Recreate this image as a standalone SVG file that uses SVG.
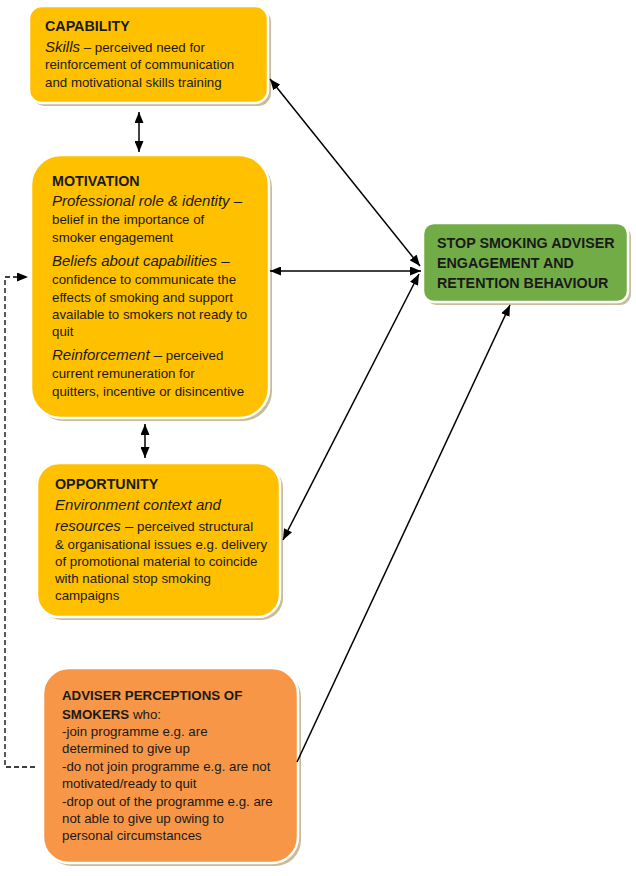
<svg xmlns="http://www.w3.org/2000/svg" width="636" height="876" viewBox="0 0 636 876">
<defs>
<marker id="ah" viewBox="0 0 11 9" refX="11" refY="4.5" markerWidth="11" markerHeight="9" markerUnits="userSpaceOnUse" orient="auto-start-reverse">
<path d="M0,0 L11,4.5 L0,9 Z" fill="#000"/>
</marker>
</defs>
<style>
.sh{fill:#c9bc9c}
.y{fill:#ffc000;stroke:#fff;stroke-width:2.5}
.o{fill:#f79646;stroke:#fff;stroke-width:2.5}
.g{fill:#72ac46;stroke:#fff;stroke-width:2.5}
text{font-family:"Liberation Sans",Arial,sans-serif;font-size:13.3px;fill:#1a1a1a}
.t{font-weight:bold;font-size:14.3px}
.i{font-style:italic;font-size:15px}
.c{stroke:#000;stroke-width:1.5;fill:none}
.d{stroke:#000;stroke-width:1.3;fill:none;stroke-dasharray:5,3}
</style>
<g id="capability">
<rect class="sh" x="32" y="9" width="239" height="97" rx="13"/>
<rect class="y" x="29" y="6" width="239" height="97" rx="13"/>
<text x="45" y="31" class="t">CAPABILITY</text>
<text x="45" y="52"><tspan class="i">Skills</tspan> – perceived need for</text>
<text x="45" y="69">reinforcement of communication</text>
<text x="45" y="87">and motivational skills training</text>
</g>
<g id="motivation">
<rect class="sh" x="34" y="158" width="238" height="263" rx="30"/>
<rect class="y" x="31" y="155" width="238" height="263" rx="30"/>
<text x="52" y="186" class="t">MOTIVATION</text>
<text x="52" y="206" class="i">Professional role &amp; identity –</text>
<text x="52" y="224">belief in the importance of</text>
<text x="52" y="242">smoker engagement</text>
<text x="52" y="266" class="i">Beliefs about capabilities –</text>
<text x="52" y="284">confidence to communicate the</text>
<text x="52" y="302">effects of smoking and support</text>
<text x="52" y="319">available to smokers not ready to</text>
<text x="52" y="336">quit</text>
<text x="52" y="360"><tspan class="i">Reinforcement –</tspan> perceived</text>
<text x="52" y="378">current remuneration for</text>
<text x="52" y="396">quitters, incentive or disincentive</text>
</g>
<g id="opportunity">
<rect class="sh" x="40" y="466" width="243" height="154" rx="22"/>
<rect class="y" x="37" y="463" width="243" height="154" rx="22"/>
<text x="55" y="489" class="t">OPPORTUNITY</text>
<text x="55" y="510" class="i">Environment context and</text>
<text x="55" y="531"><tspan class="i">resources –</tspan> perceived structural</text>
<text x="55" y="549">&amp; organisational issues e.g. delivery</text>
<text x="55" y="566">of promotional material to coincide</text>
<text x="55" y="583">with national stop smoking</text>
<text x="55" y="600">campaigns</text>
</g>
<g id="adviser-perceptions">
<rect class="sh" x="46" y="671" width="255" height="195" rx="26"/>
<rect class="o" x="43" y="668" width="255" height="195" rx="26"/>
<text x="62" y="700" class="t" style="font-size:13.3px">ADVISER PERCEPTIONS OF</text>
<text x="62" y="719"><tspan class="t" style="font-size:13.3px">SMOKERS</tspan> who:</text>
<text x="62" y="736">-join programme e.g. are</text>
<text x="62" y="753">determined to give up</text>
<text x="62" y="771">-do not join programme e.g. are not</text>
<text x="62" y="788">motivated/ready to quit</text>
<text x="62" y="806">-drop out of the programme e.g. are</text>
<text x="62" y="823">not able to give up owing to</text>
<text x="62" y="840">personal circumstances</text>
</g>
<g id="stop-smoking-adviser">
<rect class="sh" x="426" y="226" width="205" height="79" rx="11"/>
<rect class="g" x="423" y="223" width="205" height="79" rx="11"/>
<text x="437" y="248" class="t">STOP SMOKING ADVISER</text>
<text x="437" y="268" class="t">ENGAGEMENT AND</text>
<text x="437" y="288" class="t">RETENTION BEHAVIOUR</text>
</g>
<g id="connectors">
<line class="c" x1="139" y1="112" x2="139" y2="152" marker-start="url(#ah)" marker-end="url(#ah)"/>
<line class="c" x1="145" y1="424" x2="145" y2="458" marker-start="url(#ah)" marker-end="url(#ah)"/>
<line class="c" x1="270" y1="79" x2="420" y2="266" marker-start="url(#ah)" marker-end="url(#ah)"/>
<line class="c" x1="270" y1="271" x2="421" y2="271" marker-start="url(#ah)" marker-end="url(#ah)"/>
<line class="c" x1="283" y1="540" x2="419" y2="274" marker-start="url(#ah)" marker-end="url(#ah)"/>
<line class="c" x1="297" y1="762" x2="510" y2="305" marker-end="url(#ah)"/>
<path class="d" d="M35,767 H5 V277 H28" marker-end="url(#ah)"/>
</g>
</svg>
